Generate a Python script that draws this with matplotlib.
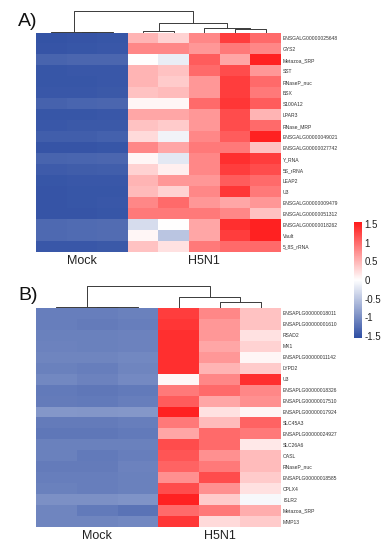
import matplotlib
matplotlib.use("Agg")
import matplotlib.pyplot as plt
from matplotlib.colors import LinearSegmentedColormap, Normalize
import numpy as np

plt.rcParams["font.family"] = ["Liberation Sans", "DejaVu Sans"]

# ── panel A data (rows x [Mock x3, H5N1 x5]) ──────────────────────────────
genes_a = ["ENSGALG00000025648", "GYS2", "Metazoa_SRP", "SST", "RNaseP_nuc",
           "BSX", "S100A12", "LPAR3", "RNase_MRP", "ENSGALG00000049021",
           "ENSGALG00000027742", "Y_RNA", "5S_rRNA", "LEAP2", "U3",
           "ENSGALG00000009479", "ENSGALG00000051312", "ENSGALG00000018262",
           "Vault", "5_8S_rRNA"]
mock_a = [
    [-1.50, -1.48, -1.47], [-1.48, -1.47, -1.46], [-1.35, -1.33, -1.32],
    [-1.47, -1.46, -1.46], [-1.47, -1.47, -1.46], [-1.46, -1.46, -1.45],
    [-1.36, -1.34, -1.33], [-1.47, -1.47, -1.46], [-1.46, -1.45, -1.45],
    [-1.40, -1.40, -1.38], [-1.48, -1.48, -1.47], [-1.35, -1.34, -1.33],
    [-1.42, -1.41, -1.40], [-1.47, -1.46, -1.46], [-1.48, -1.47, -1.47],
    [-1.48, -1.47, -1.46], [-1.48, -1.48, -1.47], [-1.30, -1.29, -1.28],
    [-1.30, -1.29, -1.28], [-1.46, -1.46, -1.45]]
h5n1_a = [
    [0.50, 0.30, 0.80, 1.30, 1.00], [0.80, 0.80, 0.70, 0.90, 0.80],
    [0.00, -0.15, 1.10, 0.60, 1.50], [0.50, 0.40, 1.00, 1.20, 0.70],
    [0.50, 0.35, 0.70, 1.30, 1.00], [0.40, 0.45, 0.70, 1.30, 0.90],
    [0.05, 0.05, 1.00, 1.35, 1.10], [0.60, 0.60, 0.70, 1.20, 0.50],
    [0.40, 0.35, 0.70, 1.20, 1.00], [0.25, -0.10, 0.80, 1.10, 1.50],
    [0.80, 0.60, 0.90, 0.90, 0.40], [0.05, -0.20, 0.80, 1.40, 1.30],
    [0.30, 0.10, 0.80, 1.30, 1.20], [0.50, 0.70, 0.70, 1.10, 1.00],
    [0.45, 0.30, 0.80, 1.35, 0.90], [0.80, 1.00, 0.70, 0.60, 0.70],
    [0.90, 0.90, 0.90, 0.80, 0.40], [-0.30, 0.00, 0.60, 1.40, 1.50],
    [0.05, -0.50, 0.60, 1.30, 1.50], [0.40, 0.20, 0.90, 1.00, 1.00]]
# linkage: (left, right, height)
link_a = [(1, 2, 0.6), (0, 8, 1.0), (3, 4, 2.0), (6, 7, 4.0),
          (5, 11, 5.0), (10, 12, 10.0), (9, 13, 22.0)]

# ── panel B data (rows x [Mock x3, H5N1 x3]) ──────────────────────────────
genes_b = ["ENSAPLG00000018011", "ENSAPLG00000001610", "RSAD2", "MX1",
           "ENSAPLG00000011142", "LYPD2", "U3", "ENSAPLG00000018326",
           "ENSAPLG00000017510", "ENSAPLG00000017924", "SLC45A3",
           "ENSAPLG00000024927", "SLC26A6", "OASL", "RNaseP_nuc",
           "ENSAPLG00000018585", "CPLX4", "ISLR2", "Metazoa_SRP", "MMP13"]
mock_b = [
    [-1.12, -1.12, -1.10], [-1.12, -1.14, -1.12], [-1.10, -1.10, -1.08],
    [-1.08, -1.10, -1.08], [-1.06, -1.06, -1.04], [-1.10, -1.12, -1.06],
    [-1.04, -1.08, -1.02], [-1.16, -1.18, -1.16], [-1.14, -1.16, -1.12],
    [-0.90, -0.92, -0.90], [-1.14, -1.14, -1.12], [-1.18, -1.18, -1.16],
    [-1.10, -1.10, -1.10], [-1.10, -1.16, -1.12], [-1.14, -1.14, -1.08],
    [-1.12, -1.12, -1.10], [-1.10, -1.12, -1.10], [-0.96, -0.96, -0.94],
    [-1.06, -1.16, -1.22], [-1.06, -1.06, -1.04]]
h5n1_b = [
    [1.30, 0.80, 0.40], [1.35, 0.70, 0.40], [1.40, 0.70, 0.20],
    [1.40, 0.60, 0.30], [1.40, 0.70, 0.05], [1.40, 0.50, 0.35],
    [0.05, 0.80, 1.40], [0.90, 1.00, 0.80], [1.10, 0.60, 0.75],
    [1.50, 0.20, 0.05], [0.90, 0.45, 1.05], [0.60, 1.00, 0.90],
    [1.20, 1.00, 0.15], [1.15, 0.75, 0.45], [1.05, 0.90, 0.45],
    [0.75, 1.20, 0.35], [1.20, 0.75, 0.20], [1.50, 0.35, -0.05],
    [1.00, 0.90, 0.55], [1.35, 0.25, 0.35]]
link_b = [(1, 2, 0.7), (0, 6, 1.0), (4, 5, 6.0), (3, 8, 11.0), (7, 9, 22.0)]

group_labels = ["Mock", "H5N1"]
cbar_ticks = [-1.5, -1, -0.5, 0, 0.5, 1, 1.5]

cmap = LinearSegmentedColormap.from_list(
    "bwr_custom", ["#2e4ea3", "#ffffff", "#ff1a1a"])
norm = Normalize(vmin=-1.55, vmax=1.55)


def draw_dendro(ax, n_leaves, links):
    pos = {i: i + 0.5 for i in range(n_leaves)}
    hgt = {i: 0.0 for i in range(n_leaves)}
    for k, (a, b, h) in enumerate(links):
        xa, xb = pos[a], pos[b]
        ax.plot([xa, xa, xb, xb], [hgt[a], h, h, hgt[b]],
                color="#3a3a3a", lw=0.7, solid_capstyle="butt")
        pos[n_leaves + k] = 0.5 * (xa + xb)
        hgt[n_leaves + k] = h
    ax.set_xlim(0, n_leaves)
    ax.set_ylim(0, 25)
    ax.axis("off")


def draw_panel(fig, top_px, genes, mock, h5n1, links, letter):
    W, H = 388.0, 550.0
    data = np.hstack([np.array(mock), np.array(h5n1)])
    n_mock = len(mock[0])
    ncol = data.shape[1]
    left, right = 36 / W, 281 / W
    hm_h = 219 / H
    bottom = 1 - (top_px + 219) / H
    ax = fig.add_axes([left, bottom, right - left, hm_h])
    ax.imshow(data, cmap=cmap, norm=norm, aspect="auto",
              interpolation="nearest")
    ax.set_xticks([])
    ax.yaxis.tick_right()
    ax.set_yticks(range(len(genes)))
    ax.set_yticklabels(genes, fontsize=3.6, color="#333333")
    ax.tick_params(axis="y", length=0, pad=1.5)
    for s in ax.spines.values():
        s.set_visible(False)

    dax = fig.add_axes([left, 1 - top_px / H, right - left, 25 / H])
    draw_dendro(dax, ncol, links)

    # group labels under the heatmap
    xm = left + (right - left) * (n_mock / 2) / ncol
    xh = left + (right - left) * ((n_mock + ncol) / 2) / ncol
    ylab = bottom - 9 / H
    for x, t in zip([xm, xh], group_labels):
        fig.text(x, ylab, t, ha="center", va="center", fontsize=9,
                 color="#222222")
    fig.text(18 / W, 1 - (top_px - 12) / H, letter, ha="left",
             va="center", fontsize=14, color="#111111")


fig = plt.figure(figsize=(3.88, 5.50), dpi=100)
fig.patch.set_facecolor("white")

draw_panel(fig, 33, genes_a, mock_a, h5n1_a, link_a, "A)")
draw_panel(fig, 308, genes_b, mock_b, h5n1_b, link_b, "B)")

# shared colour bar
cax = fig.add_axes([354 / 388, 1 - 338 / 550, 8 / 388, 116 / 550])
cb = fig.colorbar(plt.cm.ScalarMappable(norm=norm, cmap=cmap), cax=cax,
                  ticks=cbar_ticks)
cb.outline.set_visible(False)
cb.ax.set_yticklabels([f"{t:g}" for t in cbar_ticks])
cb.ax.tick_params(length=0, labelsize=7, pad=2, colors="#222222")

fig.savefig("out.png", dpi=100)
